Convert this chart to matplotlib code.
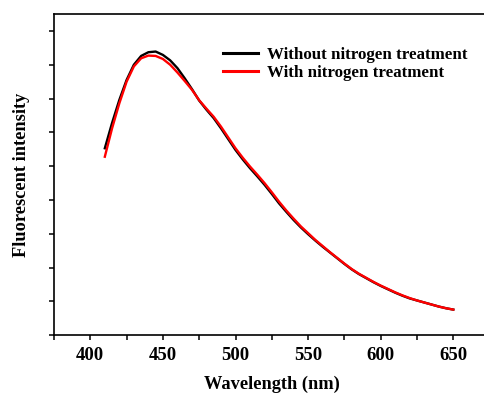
import numpy as np
import matplotlib
matplotlib.use("Agg")
import matplotlib.pyplot as plt
from matplotlib.ticker import MultipleLocator

# Emission spectra (arbitrary intensity units)
wavelength = [410, 415, 420, 425, 430, 435, 440, 445, 450, 455, 460, 465, 470,
              475, 480, 485, 490, 495, 500, 505, 510, 515, 520, 525, 530, 535,
              540, 545, 550, 555, 560, 565, 570, 575, 580, 585, 590, 595, 600,
              605, 610, 615, 620, 625, 630, 635, 640, 645, 650]

without_n = [5.53, 6.28, 6.96, 7.55, 8.00, 8.26, 8.37, 8.39, 8.29, 8.13, 7.90,
             7.60, 7.28, 6.94, 6.67, 6.42, 6.12, 5.80, 5.48, 5.20, 4.94, 4.70,
             4.45, 4.18, 3.90, 3.65, 3.41, 3.19, 2.99, 2.80, 2.62, 2.45, 2.28,
             2.11, 1.95, 1.81, 1.69, 1.57, 1.46, 1.36, 1.26, 1.17, 1.09, 1.03,
             0.97, 0.91, 0.85, 0.80, 0.76]

with_n = [5.28, 6.12, 6.86, 7.50, 7.95, 8.19, 8.27, 8.26, 8.17, 8.00, 7.77,
          7.52, 7.26, 6.95, 6.70, 6.46, 6.17, 5.85, 5.53, 5.25, 4.99, 4.75,
          4.50, 4.23, 3.95, 3.69, 3.45, 3.22, 3.02, 2.82, 2.64, 2.46, 2.29,
          2.12, 1.96, 1.82, 1.70, 1.58, 1.47, 1.37, 1.27, 1.18, 1.10, 1.03,
          0.97, 0.91, 0.85, 0.80, 0.76]

series_labels = ["Without nitrogen treatment", "With nitrogen treatment"]
x_label = "Wavelength (nm)"
y_label = "Fluorescent intensity"

plt.rcParams["font.family"] = ["Liberation Serif", "DejaVu Serif"]
plt.rcParams["font.weight"] = "bold"

W, H = 484, 394
fig = plt.figure(figsize=(W / 100, H / 100), dpi=100)
left, right, top, bottom = 54, 489.6, 14, 335.3
ax = fig.add_axes([left / W, (H - bottom) / H, (right - left) / W, (bottom - top) / H])

ax.plot(wavelength, without_n, color="black", lw=1.7, label=series_labels[0])
ax.plot(wavelength, with_n, color="#ff0000", lw=1.7, label=series_labels[1])

ax.set_xlim(375, 675)
ax.set_ylim(0, 9.5)
ax.xaxis.set_major_locator(MultipleLocator(50))
ax.xaxis.set_minor_locator(MultipleLocator(25))
ax.yaxis.set_major_locator(MultipleLocator(1))
ax.set_yticklabels([])
ax.tick_params(axis="both", which="both", direction="out", width=1.1, length=3.5)
ax.tick_params(axis="x", which="major", labelsize=13.5, pad=5)
for lab in ax.get_xticklabels():
    lab.set_fontweight("bold")
for s in ax.spines.values():
    s.set_linewidth(1.2)

ax.set_xlabel(x_label, fontsize=13.2, fontweight="bold", labelpad=8.5)
ax.set_ylabel(y_label, fontsize=13.2, fontweight="bold", labelpad=10)

leg = ax.legend(loc="upper left", bbox_to_anchor=(0.388, 0.898), frameon=False,
                prop={"size": 12.2, "weight": "bold"}, handlelength=2.05,
                handletextpad=0.55, labelspacing=0.15, borderaxespad=0,
                borderpad=0)
for line in leg.get_lines():
    line.set_linewidth(2.2)

fig.savefig("out.png", dpi=100)
